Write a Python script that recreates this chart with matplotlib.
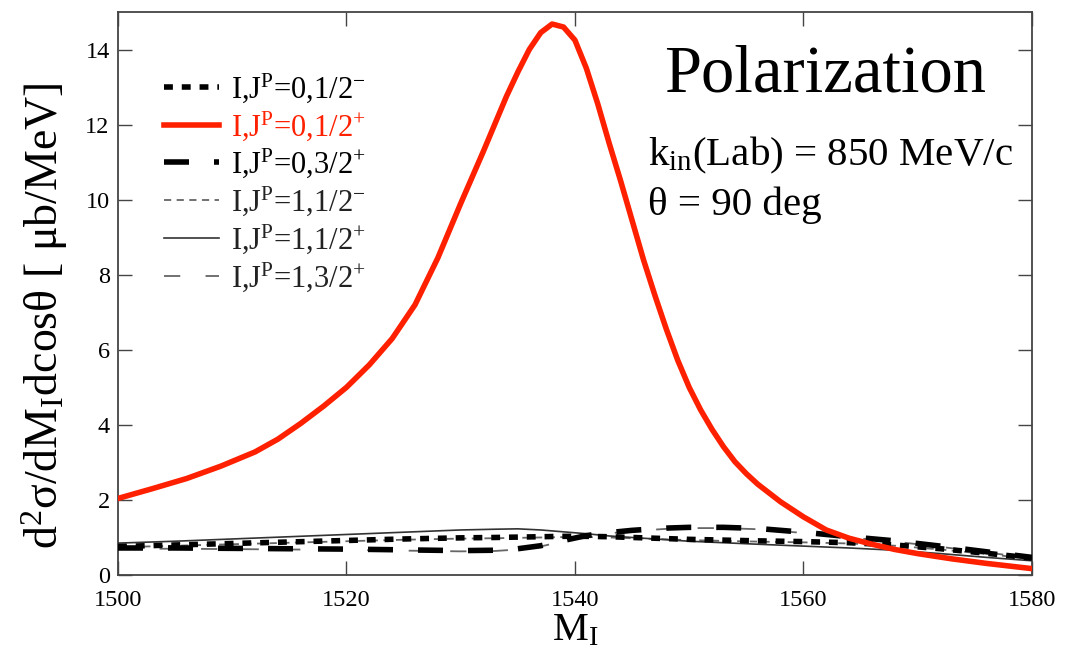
import matplotlib
matplotlib.use("Agg")
import matplotlib.pyplot as plt

plt.rcParams['font.family'] = ['Liberation Serif', 'DejaVu Serif']
plt.rcParams['mathtext.fontset'] = 'custom'
plt.rcParams['mathtext.rm'] = 'Liberation Serif'
plt.rcParams['mathtext.it'] = 'Liberation Serif:italic'

# I,J^P = 0,1/2+ (red)
m_red = [1500, 1503, 1506, 1509, 1512, 1514, 1516, 1518, 1520, 1522, 1524, 1526, 1528,
         1530, 1532, 1534, 1535, 1536, 1537, 1538, 1539, 1540, 1541, 1542, 1543, 1544,
         1545, 1546, 1547, 1548, 1549, 1550, 1551, 1552, 1553, 1554, 1555, 1556, 1558,
         1560, 1562, 1564, 1566, 1568, 1570, 1573, 1576, 1580]
y_red = [2.04, 2.3, 2.57, 2.9, 3.28, 3.62, 4.04, 4.5, 5.0, 5.6, 6.3, 7.2, 8.45,
         9.9, 11.3, 12.75, 13.4, 14.0, 14.45, 14.68, 14.6, 14.25, 13.5, 12.55, 11.5, 10.5,
         9.45, 8.4, 7.45, 6.55, 5.72, 5.0, 4.4, 3.88, 3.42, 3.02, 2.7, 2.42, 1.95,
         1.55, 1.2, 0.98, 0.82, 0.68, 0.57, 0.43, 0.31, 0.17]

m_blk = [1500, 1505, 1510, 1515, 1520, 1525, 1530, 1533, 1535, 1537, 1539, 1541, 1543,
         1545, 1548, 1550, 1553, 1556, 1560, 1564, 1568, 1572, 1576, 1580]
# I,J^P = 0,1/2-
y_01m = [0.76, 0.8, 0.84, 0.88, 0.92, 0.96, 0.99, 1.0, 1.01, 1.02, 1.03, 1.03, 1.02,
         1.0, 0.97, 0.95, 0.93, 0.91, 0.89, 0.86, 0.8, 0.7, 0.58, 0.45]
# I,J^P = 0,3/2+
y_03p = [0.72, 0.72, 0.71, 0.7, 0.69, 0.67, 0.65, 0.66, 0.7, 0.78, 0.92, 1.05, 1.13,
         1.19, 1.25, 1.27, 1.27, 1.24, 1.14, 1.02, 0.91, 0.77, 0.62, 0.47]
# I,J^P = 1,1/2-
y_11m = [0.74, 0.78, 0.82, 0.86, 0.9, 0.94, 0.97, 0.98, 0.99, 1.0, 1.01, 1.01, 1.0,
         0.98, 0.95, 0.93, 0.91, 0.89, 0.87, 0.84, 0.78, 0.68, 0.56, 0.43]
# I,J^P = 1,1/2+
y_11p = [0.85, 0.9, 0.96, 1.02, 1.08, 1.14, 1.2, 1.22, 1.23, 1.2, 1.15, 1.1, 1.04,
         1.0, 0.94, 0.9, 0.86, 0.82, 0.77, 0.72, 0.66, 0.57, 0.47, 0.38]
# I,J^P = 1,3/2+
y_13p = [0.7, 0.7, 0.69, 0.68, 0.67, 0.65, 0.63, 0.64, 0.68, 0.76, 0.9, 1.03, 1.11,
         1.17, 1.23, 1.25, 1.25, 1.22, 1.12, 1.0, 0.89, 0.75, 0.6, 0.45]

labels = [r'I,J$^{\mathrm{P}}$=0,1/2$^{\mathrm{-}}$',
          r'I,J$^{\mathrm{P}}$=0,1/2$^{+}$',
          r'I,J$^{\mathrm{P}}$=0,3/2$^{+}$',
          r'I,J$^{\mathrm{P}}$=1,1/2$^{\mathrm{-}}$',
          r'I,J$^{\mathrm{P}}$=1,1/2$^{+}$',
          r'I,J$^{\mathrm{P}}$=1,3/2$^{+}$']

RED = '#ff2000'
fig = plt.figure(figsize=(10.66, 6.57), dpi=100)
ax = fig.add_axes([0.1107, 0.1248, 0.8573, 0.8569])

l1, = ax.plot(m_blk, y_01m, color='black', lw=4, ls=(0, (1.6, 1.6)), zorder=4)
l2, = ax.plot(m_red, y_red, color=RED, lw=4, zorder=5)
l3, = ax.plot(m_blk, y_03p, color='black', lw=4, ls=(0, (4.5, 4.5)), zorder=4)
l4, = ax.plot(m_blk, y_11m, color='#666666', lw=1.3, ls=(0, (4, 3)), zorder=2)
l5, = ax.plot(m_blk, y_11p, color='#333333', lw=1.2, zorder=3)
l6, = ax.plot(m_blk, y_13p, color='#666666', lw=1.3, ls=(0, (9, 14)), zorder=2)

leg = ax.legend([l1, l2, l3, l4, l5, l6], labels, loc='upper left',
                bbox_to_anchor=(0.05, 0.895), frameon=False, fontsize=22,
                handlelength=1.8, handletextpad=0.4, labelspacing=0.14,
                borderpad=0, borderaxespad=0)
for t, c in zip(leg.get_texts(), ['black', RED, 'black', '#222222', '#222222', '#222222']):
    t.set_color(c)

ax.text(0.7735, 0.888, 'Polarization', transform=ax.transAxes, fontsize=48,
        ha='center', va='center')
ax.text(0.58, 0.746, r'k$_{\mathrm{in}}$(Lab) = 850 MeV/c', transform=ax.transAxes,
        fontsize=29.5, ha='left', va='center')
ax.text(0.58, 0.657, 'θ = 90 deg', transform=ax.transAxes,
        fontsize=29.5, ha='left', va='center')

ax.set_xlim(1500, 1580)
ax.set_ylim(0, 15)
ax.set_xticks([1500, 1520, 1540, 1560, 1580])
ax.set_yticks([0, 2, 4, 6, 8, 10, 12, 14])
ax.tick_params(direction='in', top=True, right=True, length=10, width=1,
               labelsize=17.5, pad=6, color='#444444')
ax.tick_params(axis='x', pad=11)
for s in ax.spines.values():
    s.set_linewidth(1.3)
    s.set_color('#444444')

ax.set_xlabel(r'M$_{\mathrm{I}}$', fontsize=29, labelpad=1)
ax.set_ylabel(r'd$^2$σ/dM$_{\mathrm{I}}$dcosθ [ μb/MeV]', fontsize=33)
ax.yaxis.set_label_coords(-0.052, 0.46)

fig.savefig('out.png', dpi=100)
